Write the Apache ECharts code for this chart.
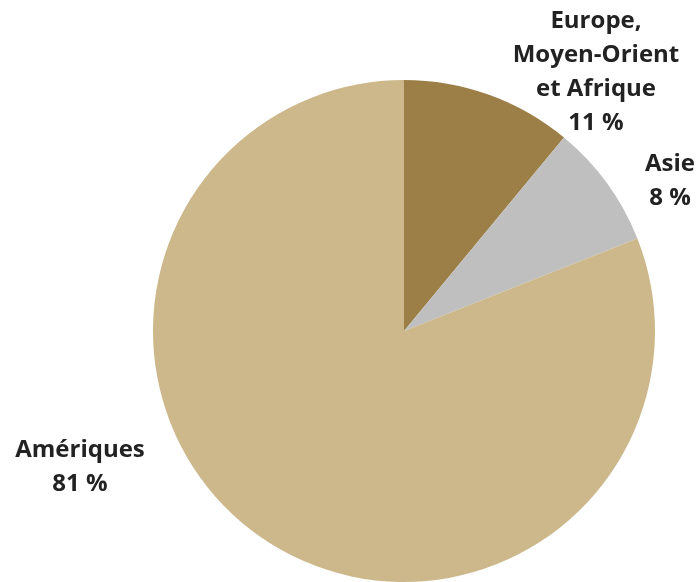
<!DOCTYPE html>
<html>
<head>
<meta charset="utf-8">
<script src="https://cdn.jsdelivr.net/npm/echarts@6/dist/echarts.min.js"></script>
<style>
  html, body { margin: 0; padding: 0; background: #fff; }
  #main { width: 700px; height: 582px; }
</style>
</head>
<body>
<div id="main"></div>
<script>
// données
const regions = ['Europe,\nMoyen-Orient\net Afrique', 'Asie', 'Amériques'];
const shares = [11, 8, 81];
const colors = ['#9C7F47', '#BFBFBF', '#CDB88C'];
// centre des étiquettes (px)
const labelPos = [[596, 72], [670, 181], [80, 467]];

const myChart = echarts.init(document.getElementById('main'));

const option = {
    animation: false,
    color: colors,
    series: [
        {
            type: 'pie',
            center: [404, 331],
            radius: 251,
            startAngle: 90,
            clockwise: true,
            data: regions.map((name, i) => ({ name: name, value: shares[i] })),
            itemStyle: { borderWidth: 0 },
            label: {
                show: true,
                position: 'outside',
                formatter: p => p.name + '\n' + p.value + ' %',
                fontFamily: '"Open Sans", "Noto Sans", sans-serif',
                fontWeight: 'bold',
                fontSize: 24,
                lineHeight: 34,
                color: '#222222',
                align: 'center',
                overflow: 'none'
            },
            labelLine: { show: false },
            labelLayout: function (params) {
                const pos = labelPos[params.dataIndex];
                return { x: pos[0], y: pos[1], align: 'center', verticalAlign: 'middle' };
            }
        }
    ]
};

myChart.setOption(option);
</script>
</body>
</html>
